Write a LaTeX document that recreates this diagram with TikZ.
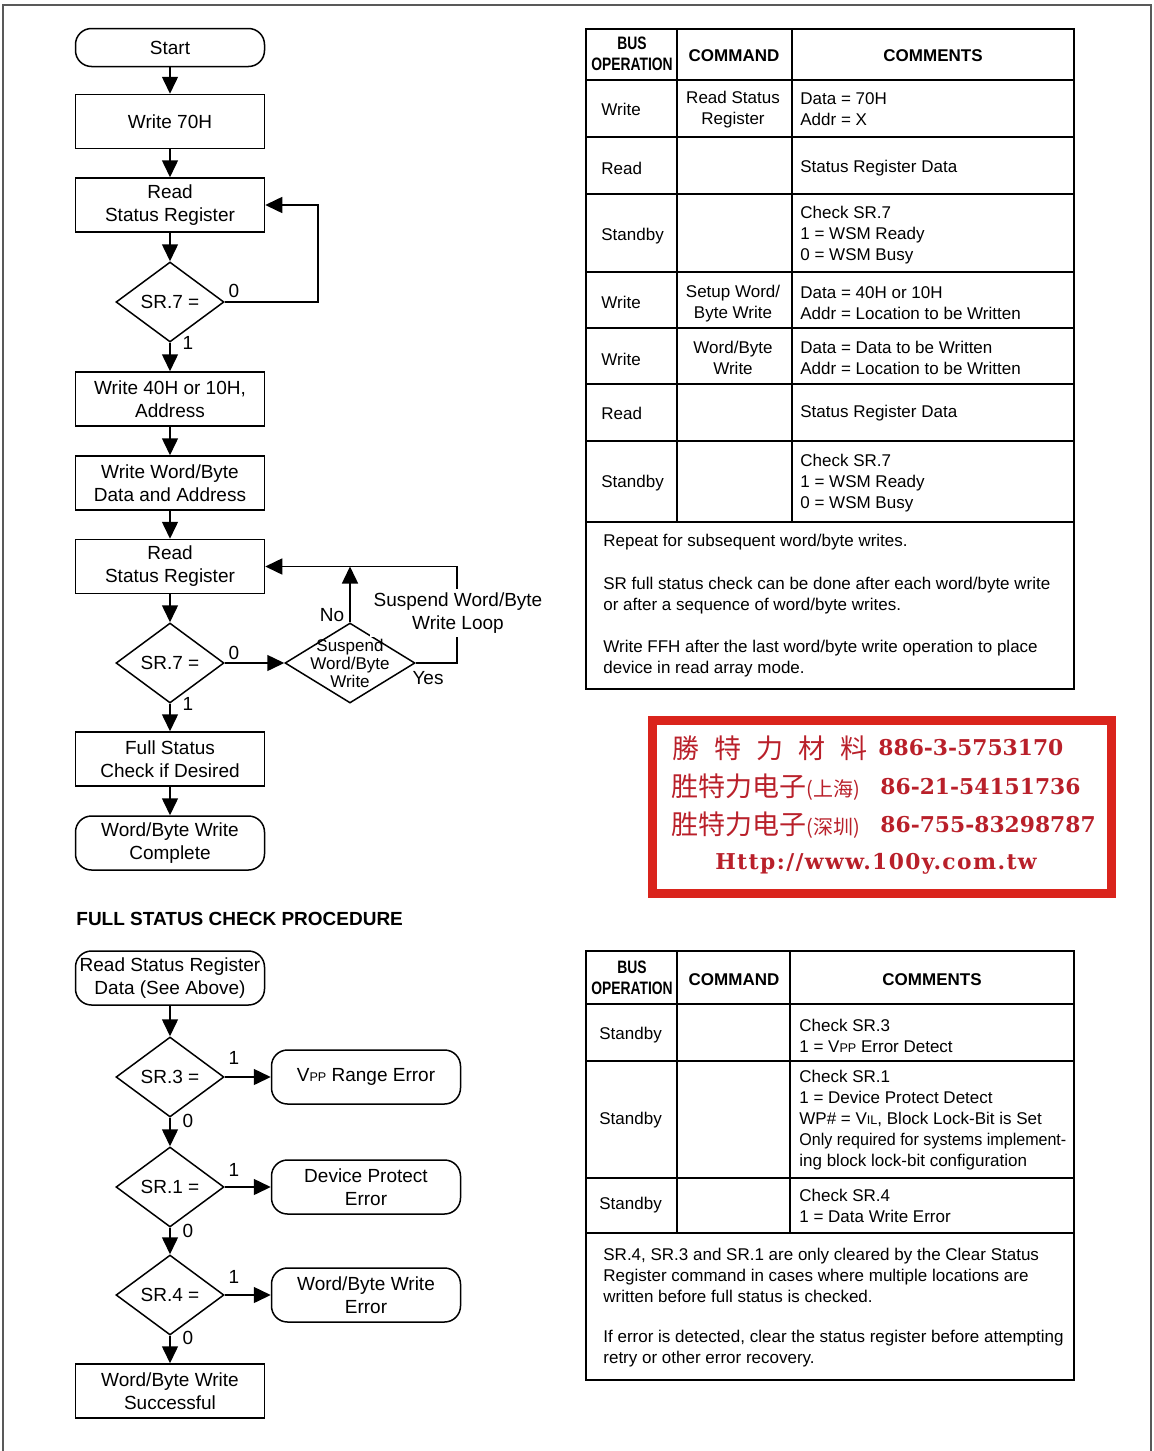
\documentclass[tikz,border=0pt]{standalone}
\usepackage{fontspec}
\setmainfont{Liberation Sans}
\newfontfamily\cjk{Noto Sans CJK SC}
\newfontfamily\stampfont{DejaVu Serif}
\newfontfamily\urlfont[LetterSpace=6.4]{DejaVu Serif}
\newfontfamily\narrowfont[FakeStretch=0.77]{Liberation Sans}
\usetikzlibrary{arrows.meta,shapes.geometric}
\definecolor{stampred}{RGB}{218,36,28}
\definecolor{stampink}{RGB}{185,32,42}
\def\lowcaps#1{{\fontsize{6.3}{6.3}\selectfont #1}}
\tikzset{
  flow/.style={draw, line width=0.75pt, font=\fontsize{9.5}{11.5}\selectfont, align=center, inner sep=0pt},
  procbox/.style={flow, rectangle, minimum width=94.5pt, minimum height=27pt},
  termbox/.style={procbox, rounded corners=8pt},
  decbox/.style={flow, diamond, minimum width=54pt, minimum height=40pt},
  arr/.style={line width=0.75pt, -{Triangle[length=8.5pt,width=8pt]}},
  lbl/.style={font=\fontsize{9.5}{11.5}\selectfont, inner sep=0pt},
  tabline/.style={line width=0.8pt},
  tabtxt/.style={font=\fontsize{8.5}{10.5}\selectfont, align=left, inner sep=0pt, anchor=west, yshift=-0.7pt},
  tabmid/.style={font=\fontsize{8.5}{10.5}\selectfont, align=center, inner sep=0pt, yshift=-0.7pt},
  tabhead/.style={font=\bfseries\fontsize{8.5}{10.5}\selectfont, inner sep=0pt},
  bushead/.style={font=\narrowfont\bfseries\fontsize{9}{10.5}\selectfont, align=center, inner sep=0pt},
  stampcjk/.style={font=\cjk\fontsize{13.5}{15}\selectfont, text=stampink, inner sep=0pt, anchor=west},
  stampnum/.style={font=\stampfont\bfseries\fontsize{10.9}{13}\selectfont, text=stampink, inner sep=0pt, anchor=west},
}

\begin{document}
\begin{tikzpicture}[x=0.5pt, y=-0.5pt]
	%%%%% START %%%%%
	\useasboundingbox (0,0) rectangle (1153,1451);
	\draw[gray!70!black, line width=1.2pt] (3,1451) -- (3,5) -- (1151,5) -- (1151,1451);
	
	% write flow
	\node[termbox, minimum height=19pt] (start) at (170,47.5) {Start};
	\node[procbox] (w70) at (170,121.5) {Write 70H};
	\node[procbox] (rsr1) at (170,205) {Read\\Status Register};
	\node[decbox, label={[lbl]center:SR.7 =}] (sr7a) at (170,302) {};
	\node[procbox] (w40) at (170,399) {Write 40H or 10H,\\Address};
	\node[procbox] (wdata) at (170,483) {Write Word/Byte\\Data and Address};
	\node[procbox] (rsr2) at (170,566.5) {Read\\Status Register};
	\node[decbox, label={[lbl]center:SR.7 =}] (sr7b) at (170,663) {};
	\node[decbox, minimum width=65pt, label={[lbl, align=center, font=\fontsize{8.5}{9}\selectfont]center:Suspend\\Word/Byte\\Write}] (susp) at (350,663) {};
	\node[procbox] (fsc) at (170,759) {Full Status\\Check if Desired};
	\node[termbox] (done) at (170,843) {Word/Byte Write\\Complete};
	
	\coordinate (loop1) at (318,205);
	\coordinate (loop2) at (457,566.5);
	\coordinate (notip) at (350,566.5);
	
	\draw[arr] (start) -- (w70);
	\draw[arr] (w70) -- (rsr1);
	\draw[arr] (rsr1) -- (sr7a);
	\draw[arr] (sr7a.east) -| (loop1) -- (rsr1.east);
	\draw[arr] (sr7a) -- (w40);
	\draw[arr] (w40) -- (wdata);
	\draw[arr] (wdata) -- (rsr2);
	\draw[arr] (rsr2) -- (sr7b);
	\draw[arr] (sr7b) -- (susp);
	\draw[arr] (susp.east) -| (loop2) -- (rsr2.east);
	\draw[arr] (susp.north) -- (notip);
	\draw[arr] (sr7b) -- (fsc);
	\draw[arr] (fsc) -- (done);
	
	\node[lbl] (z1) at (234,291) {0};
	\node[lbl] (o1) at (188,343) {1};
	\node[lbl] (z2) at (234,653) {0};
	\node[lbl] (o2) at (188,704) {1};
	\node[lbl] (no) at (332,615) {No};
	\node[lbl] (yes) at (428,678) {Yes};
	\node[lbl, align=center, fill=white, inner sep=2pt] (loopnote) at (458,613) {Suspend Word/Byte\\Write Loop};
	
	% full status check
	\node[lbl, font=\bfseries\fontsize{9.5}{11}\selectfont, anchor=west] (fschead) at (76,919) {FULL STATUS CHECK PROCEDURE};
	
	\node[termbox] (rsd) at (170,978) {Read Status Register\\Data (See Above)};
	\node[decbox, label={[lbl]center:SR.3 =}] (sr3) at (170,1077) {};
	\node[termbox] (vpp) at (366,1077) {V\lowcaps{PP} Range Error};
	\node[decbox, label={[lbl]center:SR.1 =}] (sr1) at (170,1187) {};
	\node[termbox] (dpe) at (366,1187) {Device Protect\\Error};
	\node[decbox, label={[lbl]center:SR.4 =}] (sr4) at (170,1295) {};
	\node[termbox] (wbe) at (366,1295) {Word/Byte Write\\Error};
	\node[procbox] (wbs) at (170,1391) {Word/Byte Write\\Successful};
	
	\draw[arr] (rsd) -- (sr3);
	\draw[arr] (sr3) -- (vpp);
	\draw[arr] (sr3) -- (sr1);
	\draw[arr] (sr1) -- (dpe);
	\draw[arr] (sr1) -- (sr4);
	\draw[arr] (sr4) -- (wbe);
	\draw[arr] (sr4) -- (wbs);
	
	\node[lbl] (o3) at (234,1058) {1};
	\node[lbl] (z3) at (188,1121) {0};
	\node[lbl] (o4) at (234,1170) {1};
	\node[lbl] (z4) at (188,1231) {0};
	\node[lbl] (o5) at (234,1277) {1};
	\node[lbl] (z5) at (188,1338) {0};
	
	% table for the write procedure
	\draw[tabline] (586,29) rectangle (1074,689);
	\draw[tabline] (586,80) -- (1074,80);
	\draw[tabline] (586,137) -- (1074,137);
	\draw[tabline] (586,194) -- (1074,194);
	\draw[tabline] (586,272) -- (1074,272);
	\draw[tabline] (586,328) -- (1074,328);
	\draw[tabline] (586,384) -- (1074,384);
	\draw[tabline] (586,441) -- (1074,441);
	\draw[tabline] (586,522) -- (1074,522);
	\draw[tabline] (677,29) -- (677,522);
	\draw[tabline] (792,29) -- (792,522);
	
	\node[bushead] (h1a) at (632,54) {BUS\\OPERATION};
	\node[tabhead] (h1b) at (734,56) {COMMAND};
	\node[tabhead] (h1c) at (933,56) {COMMENTS};
	\node[tabtxt] (r1a) at (601,108) {Write};
	\node[tabmid] (r1b) at (733,108) {Read Status\\Register};
	\node[tabtxt] (r1c) at (800,108) {Data = 70H\\Addr = X};
	\node[tabtxt] (r2a) at (601,167) {Read};
	\node[tabtxt] (r2c) at (800,167) {Status Register Data};
	\node[tabtxt] (r3a) at (601,235) {Standby};
	\node[tabtxt] (r3c) at (800,234) {Check SR.7\\1 = WSM Ready\\0 = WSM Busy};
	\node[tabtxt] (r4a) at (601,301) {Write};
	\node[tabmid] (r4b) at (733,302) {Setup Word/\\Byte Write};
	\node[tabtxt] (r4c) at (800,302) {Data = 40H or 10H\\Addr = Location to be Written};
	\node[tabtxt] (r5a) at (601,358) {Write};
	\node[tabmid] (r5b) at (733,357) {Word/Byte\\Write};
	\node[tabtxt] (r5c) at (800,357) {Data = Data to be Written\\Addr = Location to be Written};
	\node[tabtxt] (r6a) at (601,412) {Read};
	\node[tabtxt] (r6c) at (800,412) {Status Register Data};
	\node[tabtxt] (r7a) at (601,482) {Standby};
	\node[tabtxt] (r7c) at (800,482) {Check SR.7\\1 = WSM Ready\\0 = WSM Busy};
	\node[tabtxt] (n1) at (603,541) {Repeat for subsequent word/byte writes.};
	\node[tabtxt] (n2) at (603,594) {SR full status check can be done after each word/byte write\\or after a sequence of word/byte writes.};
	\node[tabtxt] (n3) at (603,657) {Write FFH after the last word/byte write operation to place\\device in read array mode.};
	
	% distributor stamp
	\draw[stampred, line width=4.5pt] (652.5,720.5) rectangle (1111.5,893.5);
	\node[stampcjk] (s1a) at (672,748) {勝\hspace{7.5pt}特\hspace{7.5pt}力\hspace{7.5pt}材\hspace{7.5pt}料};
	\node[stampnum] (s1b) at (878,748) {886-3-5753170};
	\node[stampcjk] (s2a) at (671,787) {胜特力电子{\fontsize{10}{11}\selectfont(上海)}};
	\node[stampnum] (s2b) at (880,787) {86-21-54151736};
	\node[stampcjk] (s3a) at (671,825) {胜特力电子{\fontsize{10}{11}\selectfont(深圳)}};
	\node[stampnum] (s3b) at (880,825) {86-755-83298787};
	\node[stampnum, font=\urlfont\bfseries\fontsize{10.9}{13}\selectfont, anchor=center] (s4) at (876,864) {Http://www.100y.com.tw};
	
	% table for full status check
	\draw[tabline] (586,951) rectangle (1074,1380);
	\draw[tabline] (586,1004) -- (1074,1004);
	\draw[tabline] (586,1061) -- (1074,1061);
	\draw[tabline] (586,1178) -- (1074,1178);
	\draw[tabline] (586,1233) -- (1074,1233);
	\draw[tabline] (677,951) -- (677,1233);
	\draw[tabline] (790,951) -- (790,1233);
	
	\node[bushead] (h2a) at (632,978) {BUS\\OPERATION};
	\node[tabhead] (h2b) at (734,980) {COMMAND};
	\node[tabhead] (h2c) at (932,980) {COMMENTS};
	\node[tabtxt] (q1a) at (599,1034) {Standby};
	\node[tabtxt] (q1c) at (799,1034.5) {Check SR.3\\1 = V\lowcaps{PP} Error Detect};
	\node[tabtxt] (q2a) at (599,1119) {Standby};
	\node[tabtxt] (q2c) at (799,1119) {Check SR.1\\1 = Device Protect Detect\\WP\# = V\lowcaps{IL}, Block Lock-Bit is Set\\\scalebox{0.945}[1]{Only required for systems implement-}\\ing block lock-bit configuration};
	\node[tabtxt] (q3a) at (599,1204) {Standby};
	\node[tabtxt] (q3c) at (799,1204.5) {Check SR.4\\1 = Data Write Error};
	\node[tabtxt] (m1) at (603,1274) {SR.4, SR.3 and SR.1 are only cleared by the Clear Status\\Register command in cases where multiple locations are\\written before full status is checked.};
	\node[tabtxt] (m2) at (603,1347.5) {If error is detected, clear the status register before attempting\\retry or other error recovery.};
	%%%%% END %%%%%
\end{tikzpicture}
\end{document}
